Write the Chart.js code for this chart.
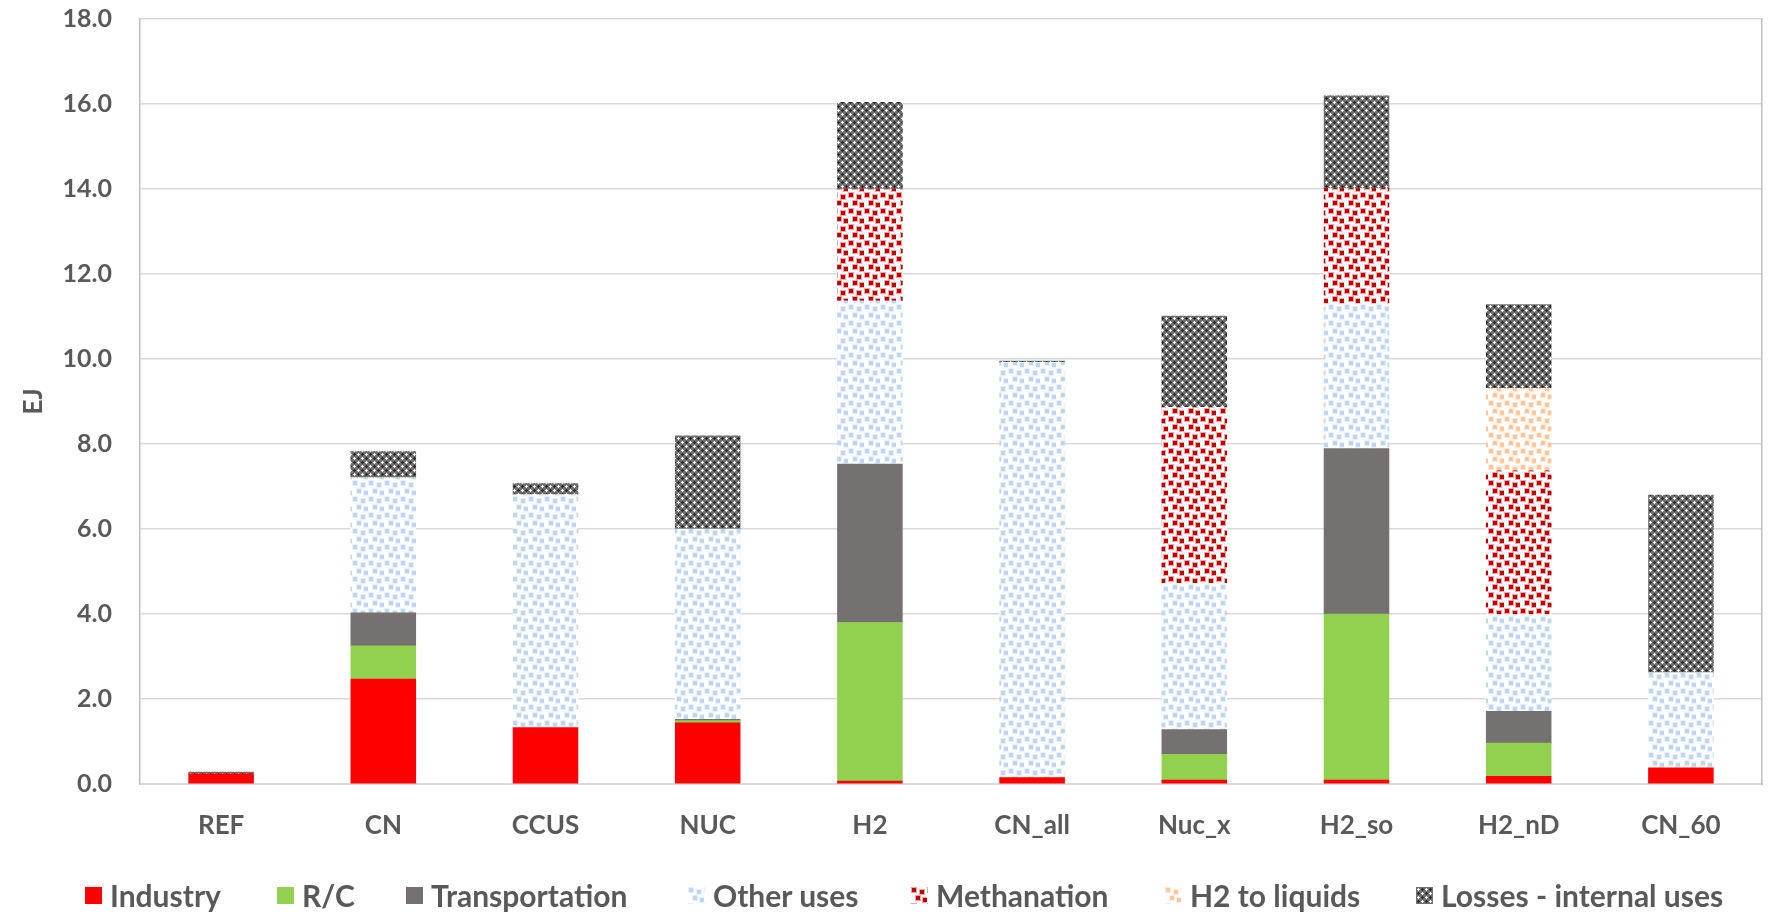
<!DOCTYPE html>
<html>
<head>
<meta charset="utf-8">
<script src="https://cdn.jsdelivr.net/npm/chart.js@4.4.1/dist/chart.umd.min.js"></script>
<style>
  html, body { margin: 0; padding: 0; background: #ffffff; }
  #wrap { position: relative; width: 1769px; height: 916px; overflow: hidden; }
  #legend { position: absolute; left: 0; top: 0; width: 1769px; height: 916px; pointer-events: none; }
  .item { position: absolute; top: 879px; height: 32px; display: flex; align-items: center;
          font: bold 30px Lato, "Noto Sans", sans-serif; color: #595959; white-space: nowrap; }
  .item canvas { margin-right: 8px; display: block; }
</style>
</head>
<body>
<div id="wrap">
  <canvas id="chart" width="1769" height="916"></canvas>
  <div id="legend"></div>
</div>
<script>
// Scenarios on the category axis
const categories = ['REF', 'CN', 'CCUS', 'NUC', 'H2', 'CN_all', 'Nuc_x', 'H2_so', 'H2_nD', 'CN_60'];

// Hydrogen demand by use (EJ)
const industry    = [0.24, 2.47, 1.33, 1.44, 0.07, 0.15, 0.09, 0.09, 0.18, 0.38];
const rc          = [0.00, 0.78, 0.00, 0.05, 3.73, 0.00, 0.61, 3.91, 0.78, 0.00];
const transport   = [0.00, 0.78, 0.00, 0.03, 3.73, 0.00, 0.58, 3.89, 0.75, 0.00];
const otherUses   = [0.00, 3.18, 5.48, 4.48, 3.84, 9.77, 3.44, 3.41, 2.28, 2.24];
const methanation = [0.00, 0.00, 0.00, 0.00, 2.63, 0.00, 4.14, 2.71, 3.38, 0.00];
const h2Liquids   = [0.00, 0.00, 0.00, 0.00, 0.00, 0.00, 0.00, 0.00, 1.94, 0.00];
const losses      = [0.04, 0.61, 0.26, 2.19, 2.04, 0.03, 2.15, 2.18, 1.97, 4.18];

// Value axis
const yMin = 0, yMax = 18, yStep = 2;

const TEXT = '#595959';
const FONT = 'Lato, "Noto Sans", sans-serif';

// Confetti tile: soft squares scattered on white
function confetti(color) {
  const c = document.createElement('canvas');
  c.width = 16; c.height = 16;
  const g = c.getContext('2d');
  g.fillStyle = '#ffffff';
  g.fillRect(0, 0, 16, 16);
  const spots = [[1, 1], [9, 3], [5, 9], [12, 11]];
  g.fillStyle = color;
  for (const [x, y] of spots) {
    g.globalAlpha = 0.35;
    g.fillRect(x - 1, y - 1, 6, 6);
    g.globalAlpha = 1;
    g.fillRect(x, y, 4, 4);
  }
  return g.createPattern(c, 'repeat');
}

// Dark lattice of white and black crosses
function lattice() {
  const c = document.createElement('canvas');
  c.width = 8; c.height = 8;
  const g = c.getContext('2d');
  g.fillStyle = '#6f6f6f';
  g.fillRect(0, 0, 8, 8);
  const plus = (cx, cy, col) => {
    g.fillStyle = col;
    g.fillRect(cx, cy - 1, 1, 3);
    g.fillRect(cx - 1, cy, 3, 1);
  };
  plus(2, 2, '#ffffff');
  plus(6, 6, '#ffffff');
  plus(6, 2, '#262626');
  plus(2, 6, '#262626');
  return g.createPattern(c, 'repeat');
}

const fills = {
  industry: '#FF0000',
  rc: '#92D050',
  transport: '#767171',
  other: confetti('#BDD7EE'),
  meth: confetti('#C00000'),
  liquids: confetti('#FCC89B'),
  losses: lattice()
};

const series = [
  { label: 'Industry', data: industry, fill: fills.industry },
  { label: 'R/C', data: rc, fill: fills.rc },
  { label: 'Transportation', data: transport, fill: fills.transport },
  { label: 'Other uses', data: otherUses, fill: fills.other },
  { label: 'Methanation', data: methanation, fill: fills.meth },
  { label: 'H2 to liquids', data: h2Liquids, fill: fills.liquids },
  { label: 'Losses - internal uses', data: losses, fill: fills.losses }
];

// Vertical axes: fixed width, no extra room for overhanging labels
const fixWidth = w => scale => {
  scale.width = w;
  scale.paddingTop = 0;
  scale.paddingBottom = 0;
};

const chart = new Chart(document.getElementById('chart'), {
  type: 'bar',
  data: {
    labels: categories,
    datasets: series.map(s => ({
      label: s.label,
      data: s.data,
      backgroundColor: s.fill,
      borderWidth: 0,
      inflateAmount: ctx => (ctx.raw ? 0.33 : 0),
      barPercentage: 0.4,
      categoryPercentage: 1.0
    }))
  },
  options: {
    responsive: false,
    animation: false,
    devicePixelRatio: 1,
    layout: { padding: { top: 19, right: 7, left: 0, bottom: 0 } },
    plugins: {
      legend: { display: false },
      tooltip: { enabled: false }
    },
    scales: {
      x: {
        stacked: true,
        grid: { display: false, drawTicks: false },
        border: { display: true, color: '#D9D9D9', width: 2 },
        ticks: { color: TEXT, font: { family: FONT, size: 26, weight: 'bold' }, padding: 26 },
        afterFit: scale => { scale.height = 132; scale.paddingLeft = 0; scale.paddingRight = 0; }
      },
      y: {
        stacked: true,
        min: yMin,
        max: yMax,
        grid: { color: '#D9D9D9', lineWidth: 1.5, drawTicks: false },
        border: { display: true, color: '#BFBFBF', width: 1.5 },
        ticks: {
          stepSize: yStep,
          padding: 28,
          color: TEXT,
          font: { family: FONT, size: 25, weight: 'bold' },
          callback: v => Number(v).toFixed(1)
        },
        title: {
          display: true,
          text: 'EJ',
          color: TEXT,
          font: { family: FONT, size: 26, weight: 'bold' },
          padding: { top: 18, bottom: 0 }
        },
        afterFit: fixWidth(140)
      },
      yRight: {
        position: 'right',
        display: true,
        min: yMin,
        max: yMax,
        grid: { drawOnChartArea: false, drawTicks: false },
        border: { display: true, color: '#BFBFBF', width: 1.5 },
        ticks: { display: false },
        afterFit: fixWidth(0)
      }
    }
  }
});

// Legend row below the axis, one swatch per series
const legendX = [85, 277, 406, 688, 911, 1165, 1416];
const legend = document.getElementById('legend');
series.forEach((s, i) => {
  const item = document.createElement('div');
  item.className = 'item';
  item.style.left = legendX[i] + 'px';
  const sw = document.createElement('canvas');
  sw.width = 17; sw.height = 17;
  const g = sw.getContext('2d');
  g.fillStyle = s.fill;
  g.fillRect(0, 0, 17, 17);
  item.appendChild(sw);
  const t = document.createElement('span');
  t.textContent = s.label;
  item.appendChild(t);
  legend.appendChild(item);
});
</script>
</body>
</html>
